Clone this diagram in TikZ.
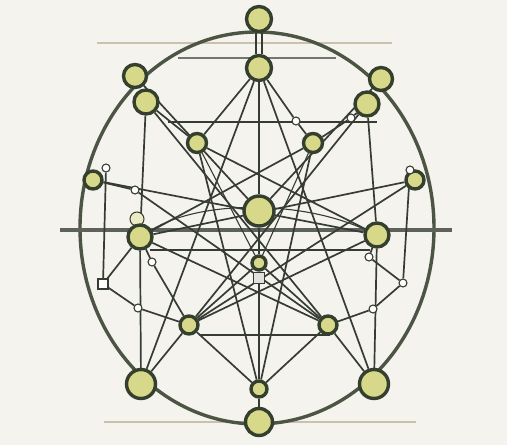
\documentclass[tikz,border=0pt]{standalone}
\usetikzlibrary{backgrounds}
\definecolor{bgc}{HTML}{F4F3EE}
\definecolor{ink}{HTML}{363B33}
\definecolor{nfill}{HTML}{D8D88A}
\definecolor{nborder}{HTML}{34402D}
\definecolor{tanc}{HTML}{C9C0AE}
\definecolor{ellc}{HTML}{4C5444}
\tikzset{
 big/.style={circle, draw=nborder, line width=3.4pt, fill=nfill, inner sep=0pt, minimum size=#1},
 jn/.style={circle, draw=ink, line width=1.1pt, fill=white, inner sep=0pt, minimum size=8pt},
 ln/.style={draw=ink, line width=1.7pt},
 thn/.style={draw=ink, line width=1.1pt},
 guide/.style={draw=tanc, line width=1.3pt},
}
\begin{document}
\begin{tikzpicture}[x=1pt,y=-1pt]
\useasboundingbox (0,0) rectangle (507,445);
% main nodes
\node[big=25pt] (T1) at (259,19) {};
\node[big=25pt] (T2) at (259,68) {};
\node[big=23pt] (L1) at (135,76) {};
\node[big=24pt] (L2) at (146,102) {};
\node[big=23pt] (R1) at (381,79) {};
\node[big=24pt] (R2) at (367,104) {};
\node[big=19pt] (L3) at (197,143) {};
\node[big=19pt] (R3) at (313,143) {};
\node[big=18pt] (L4) at (93,180) {};
\node[big=18pt] (R4) at (415,180) {};
\node[big=30pt] (C) at (259,211) {};
\node[draw=ink, line width=1pt, fill=nfill!50, circle, minimum size=14pt, inner sep=0pt] (pc) at (137,219) {};
\node[big=24pt] (L5) at (140,237) {};
\node[big=24pt] (R5) at (377,235) {};
\node[big=14pt] (M) at (259,263) {};
\node[draw=ink, line width=1pt, fill=white!85!ink, rectangle, minimum size=11pt, inner sep=0pt] (sq) at (259,278) {};
\node[big=18pt] (L6) at (189,325) {};
\node[big=18pt] (R6) at (328,325) {};
\node[big=29pt] (L7) at (141,384) {};
\node[big=29pt] (R7) at (374,384) {};
\node[big=16pt] (B1) at (259,389) {};
\node[big=27pt] (B2) at (259,422) {};
% junctions
\node[jn] (jL1) at (106,168) {};
\node[jn] (jLa) at (135,190) {};
\node[jn, rectangle, minimum size=10pt] (jL2) at (103,284) {};
\node[jn] (jL4) at (138,308) {};
\node[jn] (jL3) at (152,262) {};
\node[jn] (jR1) at (410,170) {};
\node[jn] (jRa) at (351,118) {};
\node[jn] (jRb) at (296,121) {};
\node[jn] (jR2) at (403,283) {};
\node[jn] (jR4) at (373,309) {};
\node[jn] (jR3) at (369,257) {};
% guide coordinates
\coordinate (g1a) at (97,43);  \coordinate (g1b) at (392,43);
\coordinate (g2a) at (178,58); \coordinate (g2b) at (336,58);
\coordinate (g3a) at (168,122); \coordinate (g3b) at (377,122);
\coordinate (g4a) at (60,230); \coordinate (g4b) at (452,230);
\coordinate (g5a) at (150,250); \coordinate (g5b) at (370,250);
\coordinate (g6a) at (200,335); \coordinate (g6b) at (330,335);
\coordinate (g7a) at (104,422); \coordinate (g7b) at (416,422);
\coordinate (d1a) at (256,33); \coordinate (d1b) at (256,54);
\coordinate (d2a) at (262,33); \coordinate (d2b) at (262,54);
\begin{scope}[on background layer]
\fill[bgc] (0,0) rectangle (507,445);
\draw[guide] (g1a) -- (g1b);
\draw[guide] (g7a) -- (g7b);
\draw[ellc, line width=3.4pt] (257,228) ellipse [x radius=177pt, y radius=196pt];
\draw[thn, draw=ink!70] (g2a) -- (g2b);
\draw[ln] (g3a) -- (g3b);
\draw[draw=ink!80, line width=3.2pt] (g4a) -- (g4b);
\draw[ln] (g5a) -- (g5b);
\draw[ln] (g6a) -- (g6b);
\draw[ln] (d1a) -- (d1b);
\draw[ln] (d2a) -- (d2b);
% verticals
\draw[ln] (T2) -- (C) -- (M) -- (B1) -- (B2);
\draw[ln] (L2) -- (L5) -- (L7);
\draw[ln] (R2) -- (R5) -- (R7);
\draw[ln] (jL1) -- (jL2);
\draw[ln] (jR1) -- (jR2);
% star lines
\draw[ln] (T2) -- (L7);
\draw[ln] (T2) -- (R7);
\draw[ln] (L2) -- (R6);
\draw[ln] (R2) -- (L6);
\draw[ln] (L2) -- (L3) -- (R5);
\draw[ln] (R2) -- (jRa) -- (R3) -- (L5);
\draw[ln] (T2) -- (jRb) -- (R3);
\draw[ln] (T2) -- (L3);
\draw[ln] (L4) -- (jLa) -- (R6);
\draw[ln] (R4) -- (L6);
\draw[ln] (L4) -- (R5);
\draw[ln] (R4) -- (L5);
\draw[ln] (L1) -- (C);
\draw[ln] (R1) -- (C);
\draw[ln] (B1) -- (L3);
\draw[ln] (B1) -- (R3);
\draw[ln] (L6) -- (M);
\draw[ln] (R6) -- (M);
\draw[ln] (L6) -- (B1);
\draw[ln] (R6) -- (B1);
\draw[ln] (L7) -- (L6);
\draw[ln] (R7) -- (R6);
\draw[ln] (L5) -- (jL3) -- (L6);
\draw[ln] (L5) -- (jL2) -- (jL4) -- (L6);
\draw[ln] (R5) -- (jR3) -- (jR2);
\draw[ln] (R6) -- (jR4) -- (jR2);
\draw[ln] (L5) -- (R6);
\draw[ln] (R5) -- (L6);
\draw[thn] (L5) .. controls (200,200) and (300,200) .. (R5);
\draw[thn] (L3) -- (M);
\draw[thn] (R3) -- (M);
\end{scope}
\end{tikzpicture}
\end{document}
